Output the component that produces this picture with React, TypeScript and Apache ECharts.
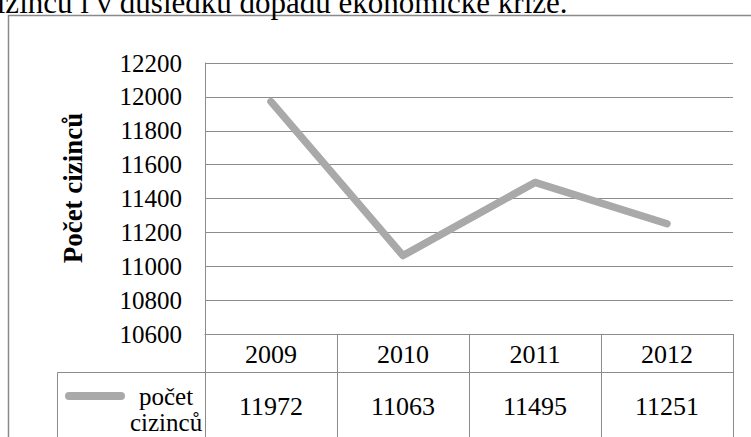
import React, { useEffect, useRef } from "react";
import * as echarts from "echarts";

const years = ["2009", "2010", "2011", "2012"];
const foreigners = [11972, 11063, 11495, 11251];
const seriesName = "počet cizinců";
const legendLines = ["počet", "cizinců"];
const yAxisTitle = "Počet cizinců";
const captionText = "cizinců i v důsledku dopadu ekonomické krize.";
const yMin = 10600;
const yMax = 12200;
const yStep = 200;

const SERIF = "Liberation Serif, Times New Roman, serif";
const GRID_COLOR = "#8c8c8c";
const LINE_COLOR = "#a9a9a9";

export default function App() {
  const ref = useRef<HTMLDivElement>(null);

  useEffect(() => {
    if (!ref.current) return;
    const chart = echarts.init(ref.current, null, { renderer: "svg" });
    const option: any = {
      animation: false,
      backgroundColor: "#ffffff",
      textStyle: { fontFamily: SERIF, color: "#000" },
      grid: { left: 205, top: 63, width: 528, height: 271, containLabel: false },
      legend: {
        show: true,
        left: 60,
        top: 352,
        icon: "path://M4,0 H56 A4,4 0 0 1 56,8 H4 A4,4 0 0 1 4,0 Z",
        itemWidth: 60,
        itemHeight: 8,
        selectedMode: false,
        data: [seriesName],
        formatter: () => ["{a| }", ...legendLines.map((l) => `{a|${l}}`)].join("\n"),
        textStyle: {
          fontFamily: SERIF,
          fontSize: 25,
          lineHeight: 26,
          color: "#000",
          rich: {
            a: { align: "center", fontFamily: SERIF, fontSize: 25, lineHeight: 26, color: "#000" },
          },
        },
      },
      xAxis: [
        {
          type: "category",
          data: years,
          position: "bottom",
          boundaryGap: true,
          axisLine: { show: true, lineStyle: { color: GRID_COLOR, width: 1 } },
          axisTick: {
            show: true,
            interval: 0,
            length: 120,
            lineStyle: { color: GRID_COLOR, width: 1 },
          },
          axisLabel: {
            interval: 0,
            margin: 20,
            verticalAlign: "middle",
            fontFamily: SERIF,
            fontSize: 26,
            color: "#000",
          },
          splitLine: { show: false },
        },
        {
          type: "category",
          data: foreigners.map((v) => String(v)),
          position: "bottom",
          boundaryGap: true,
          axisLine: { show: false },
          axisTick: { show: false },
          axisLabel: {
            interval: 0,
            margin: 72,
            verticalAlign: "middle",
            fontFamily: SERIF,
            fontSize: 26,
            color: "#000",
          },
          splitLine: { show: false },
        },
      ],
      yAxis: {
        type: "value",
        min: yMin,
        max: yMax,
        interval: yStep,
        name: yAxisTitle,
        nameLocation: "middle",
        nameRotate: 90,
        nameGap: 119,
        nameTextStyle: {
          fontFamily: SERIF,
          fontSize: 27,
          fontWeight: "bold",
          color: "#000",
          padding: [0, 0, 0, 21],
        },
        axisLine: { show: true, lineStyle: { color: GRID_COLOR, width: 1 } },
        axisTick: { show: false },
        axisLabel: {
          margin: 23,
          fontFamily: SERIF,
          fontSize: 25,
          color: "#000",
          formatter: (v: number) => String(v),
        },
        splitLine: { show: true, lineStyle: { color: GRID_COLOR, width: 1 } },
      },
      series: [
        {
          name: seriesName,
          type: "line",
          xAxisIndex: 0,
          yAxisIndex: 0,
          data: foreigners,
          symbol: "none",
          itemStyle: { color: LINE_COLOR },
          lineStyle: { color: LINE_COLOR, width: 7.5, cap: "round", join: "round" },
        },
      ],
      graphic: [
        {
          type: "rect",
          silent: true,
          z: -1,
          shape: { x: 8.5, y: 15.5, width: 800, height: 500 },
          style: { fill: "none", stroke: "#8a8a8a", lineWidth: 1.5 },
        },
        {
          type: "polyline",
          silent: true,
          shape: { points: [[57.5, 460], [57.5, 372.5], [733, 372.5]] },
          style: { fill: "none", stroke: GRID_COLOR, lineWidth: 1 },
        },
        {
          type: "text",
          silent: true,
          x: -17,
          y: 2.5,
          style: {
            text: captionText,
            font: `31px ${SERIF}`,
            fill: "#000",
            verticalAlign: "middle",
            align: "left",
          },
        },
      ],
    };
    chart.setOption(option);
    return () => chart.dispose();
  }, []);

  return (
    <div
      ref={ref}
      style={{ position: "fixed", left: 0, top: 0, width: 751, height: 437, background: "#fff" }}
    />
  );
}
